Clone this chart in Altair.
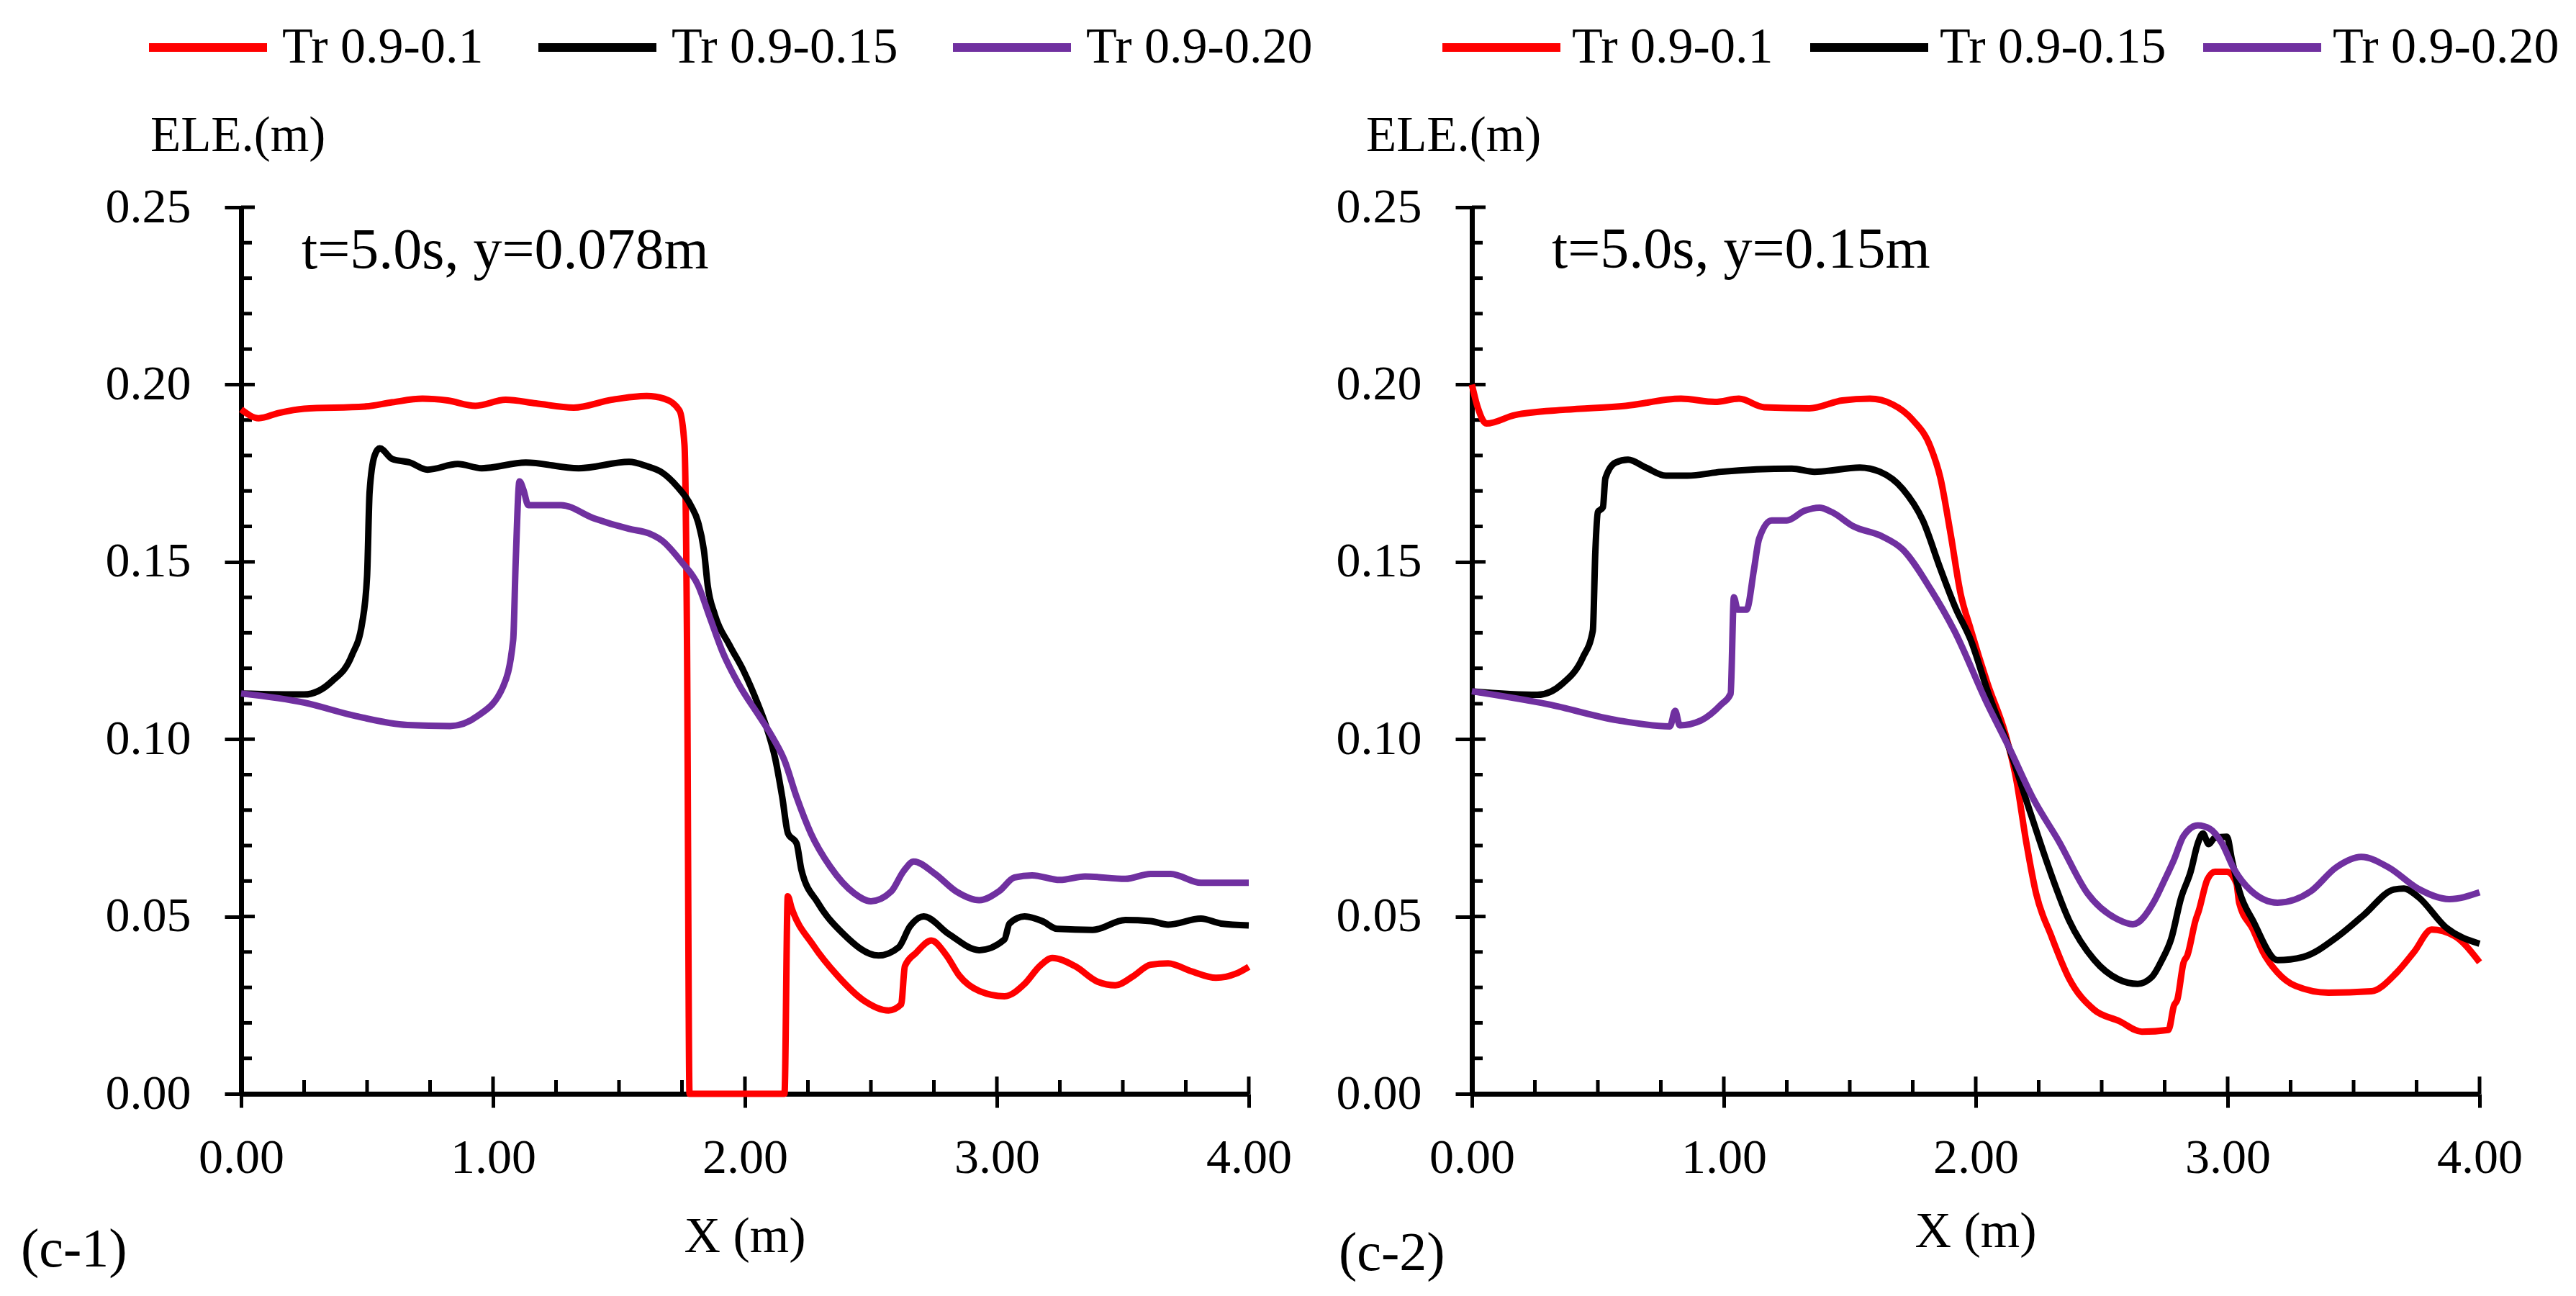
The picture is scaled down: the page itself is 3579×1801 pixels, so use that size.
"""Free-surface elevation profiles along X for three Tr cases, panels (c-1) and (c-2)."""

import altair as alt
import pandas as pd

SERIES = ["Tr 0.9-0.1", "Tr 0.9-0.15", "Tr 0.9-0.20"]
COLORS = ["#FF0000", "#000000", "#7030A0"]
FONT = "Liberation Serif"

# ---- panel (c-1): t=5.0s, y=0.078m ----
L_RED_X = [0.00, 0.07, 0.15, 0.25, 0.49, 0.60, 0.72, 0.82, 0.93, 1.05, 1.17, 1.32,
           1.47, 1.61, 1.68, 1.74, 1.76, 1.77, 1.78, 2.157, 2.17, 2.185, 2.27, 2.37,
           2.47, 2.57, 2.62, 2.635, 2.68, 2.74, 2.80, 2.85, 2.93, 3.03, 3.11, 3.17,
           3.22, 3.31, 3.40, 3.47, 3.54, 3.61, 3.68, 3.77, 3.87, 3.95, 4.00]
L_RED_Y = [0.193, 0.1905, 0.192, 0.1932, 0.1938, 0.195, 0.196, 0.1955, 0.194, 0.1957,
           0.1947, 0.1935, 0.1957, 0.1968, 0.196, 0.1927, 0.183, 0.128, 0.0, 0.0,
           0.0557, 0.0524, 0.042, 0.0331, 0.0264, 0.0235, 0.0252, 0.036, 0.0398,
           0.0432, 0.039, 0.0334, 0.029, 0.0275, 0.031, 0.036, 0.0383, 0.036, 0.0316,
           0.0306, 0.0331, 0.0364, 0.0368, 0.0346, 0.0327, 0.0339, 0.0358]

L_BLK_X = [0.00, 0.25, 0.36, 0.44, 0.48, 0.50, 0.51, 0.53, 0.55, 0.60, 0.67, 0.74,
           0.86, 0.955, 1.13, 1.34, 1.54, 1.61, 1.671, 1.729, 1.786, 1.814, 1.838,
           1.852, 1.881, 1.938, 1.995, 2.052, 2.09, 2.119, 2.148, 2.171, 2.205, 2.224,
           2.29, 2.386, 2.53, 2.61, 2.655, 2.71, 2.81, 2.93, 3.03, 3.05, 3.11, 3.18,
           3.24, 3.38, 3.51, 3.61, 3.68, 3.81, 3.89, 4.00]
L_BLK_Y = [0.1129, 0.1126, 0.1163, 0.1237, 0.1326, 0.146, 0.1697, 0.180, 0.182,
           0.179, 0.178, 0.176, 0.1776, 0.1764, 0.178, 0.1764, 0.1782, 0.177, 0.1752,
           0.1714, 0.1658, 0.1612, 0.1528, 0.1434, 0.135, 0.1266, 0.1192, 0.1098,
           0.1024, 0.0949, 0.0837, 0.0734, 0.0706, 0.0632, 0.0538, 0.0454, 0.039,
           0.0413, 0.0472, 0.050, 0.045, 0.0405, 0.0435, 0.048, 0.050, 0.0487,
           0.0465, 0.0462, 0.049, 0.0487, 0.0477, 0.0494, 0.048, 0.0475]

L_PUR_X = [0.00, 0.25, 0.45, 0.66, 0.83, 0.94, 1.04, 1.08, 1.09, 1.105, 1.12, 1.14,
           1.27, 1.40, 1.54, 1.62, 1.671, 1.748, 1.814, 1.862, 1.91, 1.976, 2.052,
           2.11, 2.157, 2.205, 2.262, 2.338, 2.433, 2.50, 2.58, 2.63, 2.67, 2.755,
           2.84, 2.93, 3.01, 3.07, 3.14, 3.25, 3.35, 3.51, 3.61, 3.69, 3.81, 4.00]
L_PUR_Y = [0.1129, 0.1103, 0.1066, 0.104, 0.1037, 0.1066, 0.1148, 0.128, 0.150,
           0.1727, 0.1705, 0.166, 0.166, 0.1623, 0.1593, 0.158, 0.156, 0.150, 0.1434,
           0.1341, 0.1248, 0.1154, 0.107, 0.1005, 0.094, 0.0837, 0.0734, 0.0641,
           0.0566, 0.0543, 0.057, 0.0628, 0.0655, 0.062, 0.057, 0.0546, 0.0572,
           0.061, 0.0616, 0.0603, 0.0613, 0.0606, 0.062, 0.062, 0.0595, 0.0595]

# ---- panel (c-2): t=5.0s, y=0.15m ----
R_RED_X = [0.00, 0.023, 0.058, 0.17, 0.37, 0.61, 0.83, 0.965, 1.06, 1.16, 1.34, 1.47,
           1.58, 1.67, 1.75, 1.82, 1.86, 1.90, 1.94, 1.98, 2.047, 2.12, 2.16, 2.20,
           2.24, 2.30, 2.37, 2.47, 2.57, 2.66, 2.765, 2.787, 2.80, 2.825, 2.84, 2.873,
           2.885, 2.92, 2.95, 2.997, 3.035, 3.046, 3.10, 3.14, 3.198, 3.27, 3.40,
           3.57, 3.67, 3.74, 3.81, 3.90, 4.00]
R_RED_Y = [0.200, 0.1936, 0.189, 0.1914, 0.1929, 0.194, 0.196, 0.1951, 0.196, 0.1936,
           0.1933, 0.1955, 0.196, 0.1944, 0.190, 0.1825, 0.1736, 0.158, 0.141, 0.131,
           0.1157, 0.1009, 0.089, 0.0712, 0.0564, 0.0445, 0.0326, 0.0237, 0.0205,
           0.0175, 0.018, 0.0249, 0.0265, 0.037, 0.039, 0.049, 0.0515, 0.0605,
           0.0626, 0.0626, 0.0593, 0.0538, 0.0464, 0.040, 0.0342, 0.0304, 0.0285,
           0.0289, 0.0341, 0.040, 0.0463, 0.0445, 0.0371]

R_BLK_X = [0.00, 0.26, 0.36, 0.44, 0.48, 0.49, 0.50, 0.52, 0.53, 0.57, 0.62, 0.69,
           0.77, 0.855, 0.99, 1.27, 1.36, 1.54, 1.62, 1.71, 1.79, 1.86, 1.92, 1.98,
           2.05, 2.13, 2.22, 2.29, 2.37, 2.47, 2.566, 2.643, 2.70, 2.739, 2.776,
           2.815, 2.853, 2.882, 2.902, 2.925, 2.948, 2.997, 3.017, 3.046, 3.103,
           3.198, 3.30, 3.44, 3.54, 3.66, 3.70, 3.755, 3.87, 4.00]
R_BLK_Y = [0.1135, 0.1125, 0.1157, 0.123, 0.1306, 0.1528, 0.164, 0.1654, 0.1736,
           0.178, 0.1788, 0.1766, 0.1743, 0.1743, 0.1754, 0.1763, 0.1754, 0.1766,
           0.1754, 0.1706, 0.1617, 0.148, 0.137, 0.128, 0.113, 0.098, 0.0786, 0.0638,
           0.049, 0.0378, 0.0323, 0.031, 0.033, 0.0377, 0.0437, 0.0552, 0.0626,
           0.0707, 0.0734, 0.0704, 0.0721, 0.0725, 0.066, 0.0573, 0.0485, 0.0377,
           0.0386, 0.0445, 0.0504, 0.0576, 0.0579, 0.0556, 0.0467, 0.0423]

R_PUR_X = [0.00, 0.305, 0.58, 0.786, 0.807, 0.825, 0.91, 0.99, 1.027, 1.04, 1.055,
           1.09, 1.12, 1.14, 1.19, 1.25, 1.32, 1.38, 1.43, 1.515, 1.625, 1.71, 1.82,
           1.915, 2.047, 2.13, 2.23, 2.33, 2.445, 2.566, 2.624, 2.71, 2.747, 2.787,
           2.825, 2.882, 2.93, 2.977, 3.026, 3.092, 3.198, 3.33, 3.43, 3.53, 3.64,
           3.755, 3.88, 4.00]
R_PUR_Y = [0.1135, 0.1098, 0.1053, 0.1036, 0.108, 0.1039, 0.1053, 0.1098, 0.1128,
           0.140, 0.1365, 0.1365, 0.148, 0.1565, 0.1617, 0.1617, 0.1644, 0.1653,
           0.164, 0.160, 0.1573, 0.1535, 0.1424, 0.1306, 0.1098, 0.098, 0.083,
           0.0712, 0.0564, 0.0491, 0.0478, 0.0545, 0.0599, 0.066, 0.0727, 0.0757,
           0.0747, 0.0707, 0.0633, 0.0573, 0.0539, 0.0571, 0.0638, 0.0668, 0.0638,
           0.0579, 0.0549, 0.0568]

Y_TICKS = [0.0, 0.05, 0.10, 0.15, 0.20, 0.25]
Y_MINOR = [0.01, 0.02, 0.03, 0.04, 0.06, 0.07, 0.08, 0.09, 0.11, 0.12, 0.13, 0.14,
           0.16, 0.17, 0.18, 0.19, 0.21, 0.22, 0.23, 0.24]
X_TICKS = [0.0, 1.0, 2.0, 3.0, 4.0]
X_MINOR = [0.25, 0.5, 0.75, 1.25, 1.5, 1.75, 2.25, 2.5, 2.75, 3.25, 3.5, 3.75]

W, H = 1400, 1232
X_SCALE = alt.Scale(domain=[0, 4], nice=False, zero=False)
Y_SCALE = alt.Scale(domain=[0, 0.25], nice=False)
X_AXIS = alt.Axis(values=X_TICKS, format=".2f", tickSize=19, labelPadding=36,
                  title=None, labelFlush=False, labelOverlap=False)
Y_AXIS = alt.Axis(values=Y_TICKS, format=".2f", tickSize=23, labelPadding=47,
                  title=None, labelOverlap=False)


def long_frame(parts):
    rows = []
    for name, xs, ys in parts:
        rows += [{"x": a, "elev": b, "series": name} for a, b in zip(xs, ys)]
    return pd.DataFrame(rows)


def text_layer(text, x, y, size, align="left"):
    return (
        alt.Chart(pd.DataFrame({"t": [text]}))
        .mark_text(font=FONT, fontSize=size, align=align, baseline="alphabetic", color="black")
        .encode(x=alt.value(x), y=alt.value(y), text="t:N")
    )


def inner_ticks(values, length, horizontal):
    # inward-pointing tick marks (Vega axes only draw outward ones)
    base = alt.Chart(pd.DataFrame({"v": values})).mark_rule(color="black", strokeWidth=5)
    if horizontal:
        return base.encode(y=alt.Y("v:Q", scale=Y_SCALE, axis=Y_AXIS), x=alt.value(0), x2=alt.value(length))
    return base.encode(x=alt.X("v:Q", scale=X_SCALE, axis=X_AXIS), y=alt.value(H), y2=alt.value(H - length))


def make_panel(parts, note, tag, *, note_x, note_y, ele_x, tag_x, tag_y, xt_y, leg_x, leg_pad, leg_off):
    lines = (
        alt.Chart(long_frame(parts))
        .mark_line(strokeWidth=9, interpolate="monotone")
        .encode(
            x=alt.X("x:Q", scale=X_SCALE, axis=X_AXIS),
            y=alt.Y("elev:Q", scale=Y_SCALE, axis=Y_AXIS),
            color=alt.Color(
                "series:N",
                scale=alt.Scale(domain=SERIES, range=COLORS),
                legend=alt.Legend(
                    title=None, orient="none", legendX=leg_x, legendY=-257,
                    direction="horizontal", symbolType="stroke", symbolSize=164 * 164,
                    symbolStrokeWidth=12, clipHeight=70, labelFont=FONT, labelFontSize=70,
                    labelColor="black", labelOffset=leg_off, columnPadding=leg_pad,
                    labelLimit=1000, padding=0,
                ),
            ),
        )
    )
    layers = [
        inner_ticks(Y_TICKS, 19, True),
        inner_ticks(Y_MINOR, 15, True),
        inner_ticks(X_TICKS, 24, False),
        inner_ticks(X_MINOR, 19, False),
        lines,
        text_layer("ELE.(m)", ele_x, -78, 69),
        text_layer(note, note_x, note_y, 80),
        text_layer("X (m)", W / 2, xt_y, 70, align="center"),
        text_layer(tag, tag_x, tag_y, 76),
    ]
    return alt.layer(*layers).properties(width=W, height=H)


left = make_panel(
    [(SERIES[0], L_RED_X, L_RED_Y), (SERIES[1], L_BLK_X, L_BLK_Y), (SERIES[2], L_PUR_X, L_PUR_Y)],
    "t=5.0s, y=0.078m", "(c-1)",
    note_x=84, note_y=85, ele_x=-126, tag_x=-306, tag_y=1472, xt_y=1452,
    leg_x=-134, leg_pad=70, leg_off=15,
)
right = make_panel(
    [(SERIES[0], R_RED_X, R_RED_Y), (SERIES[1], R_BLK_X, R_BLK_Y), (SERIES[2], R_PUR_X, R_PUR_Y)],
    "t=5.0s, y=0.15m", "(c-2)",
    note_x=111, note_y=84, ele_x=-147, tag_x=-185, tag_y=1477, xt_y=1445,
    leg_x=-47, leg_pad=45, leg_off=10,
)

chart = (
    alt.hconcat(left, right, spacing=310, bounds="flush")
    .resolve_scale(color="independent")
    .resolve_legend(color="independent")
    .properties(padding={"left": 21, "top": 23, "right": 5, "bottom": 5})
    .configure_view(stroke=None)
    .configure_axis(
        domainColor="black", domainWidth=7, tickColor="black", tickWidth=5,
        labelFont=FONT, labelFontSize=68, labelColor="black", grid=False,
    )
)

chart.save("out.html", embed_options={"renderer": "svg", "actions": False})
